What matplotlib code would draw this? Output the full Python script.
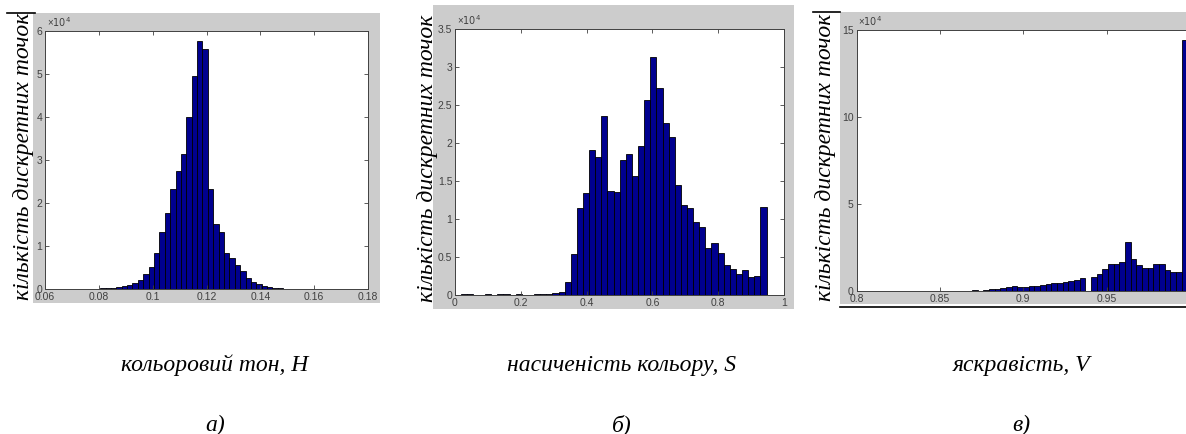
import numpy as np
import matplotlib.pyplot as plt
from matplotlib.patches import Rectangle
from matplotlib.lines import Line2D

plt.rcParams['mathtext.fontset'] = 'custom'
plt.rcParams['mathtext.rm'] = 'Liberation Sans'

W, H = 1186, 434

# histogram data, counts in units of 1e4
hue_start, hue_width = 0.0725, 0.002
hue_counts = [0.005, 0.008, 0.01, 0.01, 0.015, 0.02, 0.03, 0.045, 0.07, 0.10,
              0.15, 0.21, 0.35, 0.51, 0.83, 1.32, 1.76, 2.32, 2.75, 3.14,
              3.99, 4.95, 5.77, 5.58, 2.32, 1.51, 1.32, 0.83, 0.71, 0.56,
              0.41, 0.25, 0.16, 0.11, 0.08, 0.05, 0.025, 0.015, 0.01, 0.008,
              0.005, 0.004, 0.003, 0.003, 0.005, 0.008, 0.004]

sat_start, sat_width = 0.017, 0.0186
sat_counts = [0.01, 0.01, 0.005, 0.0, 0.01, 0.005, 0.01, 0.01, 0.005, 0.01,
              0.005, 0.0, 0.01, 0.01, 0.01, 0.02, 0.04, 0.17, 0.54, 1.14,
              1.34, 1.91, 1.82, 2.35, 1.37, 1.36, 1.77, 1.86, 1.56, 1.96,
              2.56, 3.13, 2.73, 2.26, 2.08, 1.45, 1.18, 1.15, 0.96, 0.89,
              0.62, 0.69, 0.55, 0.40, 0.34, 0.27, 0.33, 0.24, 0.25, 1.16]

val_start, val_width = 0.8182, 0.0034
val_counts = [0.01, 0.01, 0.01, 0.01, 0.01, 0.01, 0.01, 0.01, 0.01, 0.01,
              0.01, 0.01, 0.01, 0.01, 0.01, 0.06, 0.0, 0.06, 0.10, 0.13,
              0.17, 0.21, 0.27, 0.21, 0.23, 0.27, 0.31, 0.34, 0.40, 0.44,
              0.48, 0.52, 0.55, 0.65, 0.73, 0.0, 0.80, 0.95, 1.24, 1.53,
              1.58, 1.64, 2.79, 1.85, 1.47, 1.32, 1.34, 1.55, 1.53, 1.22,
              1.11, 1.11, 14.45]

hue_xticks = [0.06, 0.08, 0.1, 0.12, 0.14, 0.16, 0.18]
hue_yticks = [0, 1, 2, 3, 4, 5, 6]
sat_xticks = [0, 0.2, 0.4, 0.6, 0.8, 1]
sat_yticks = [0, 0.5, 1, 1.5, 2, 2.5, 3, 3.5]
val_xticks = [0.8, 0.85, 0.9, 0.95]   # the 1.0 tick falls past the cropped edge
val_yticks = [0, 5, 10, 15]

ylabel = 'кількість дискретних точок'
captions = ['кольоровий тон, H', 'насиченість кольору, S', 'яскравість, V']
letters = ['а)', 'б)', 'в)']


def box(l, t, r, b):
    return [l / W, 1 - b / H, (r - l) / W, (b - t) / H]


def fx(x):
    return x / W


def fy(y):
    return 1 - y / H


fig = plt.figure(figsize=(W / 100, H / 100), dpi=100)
fig.patch.set_facecolor('white')

panels = [
    dict(frame=(33, 13, 380, 303), axes=(45, 31, 368, 289), lab=(24, 156),
         start=hue_start, width=hue_width, counts=hue_counts,
         xlim=(0.06, 0.18), ylim=(0, 6), xt=hue_xticks, yt=hue_yticks),
    dict(frame=(433, 5, 794, 309), axes=(455, 29, 784, 295), lab=(427, 158),
         start=sat_start, width=sat_width, counts=sat_counts,
         xlim=(0, 1), ylim=(0, 3.5), xt=sat_xticks, yt=sat_yticks),
    dict(frame=(840, 12, 1200, 304), axes=(856.5, 30, 1190, 291), lab=(826, 157),
         start=val_start, width=val_width, counts=val_counts,
         xlim=(0.8, 1.0), ylim=(0, 15), xt=val_xticks, yt=val_yticks),
]

for i, p in enumerate(panels):
    l, t, r, b = p['frame']
    fig.add_artist(Rectangle((fx(l), fy(b)), (r - l) / W, (b - t) / H,
                             transform=fig.transFigure, facecolor='#cccccc',
                             edgecolor='none', zorder=0))
    ax = fig.add_axes(box(*p['axes']))
    ax.set_facecolor('white')
    counts = np.array(p['counts'])
    lefts = p['start'] + p['width'] * np.arange(len(counts))
    ax.bar(lefts, counts, width=p['width'], align='edge', color='#00008f',
           edgecolor='black', linewidth=0.6)
    ax.set_xlim(*p['xlim'])
    ax.set_ylim(*p['ylim'])
    ax.set_xticks(p['xt'])
    ax.set_yticks(p['yt'])
    ax.set_xticklabels([f'{v:g}' for v in p['xt']])
    ax.set_yticklabels([f'{v:g}' for v in p['yt']])
    ax.tick_params(direction='in', length=3, width=0.6, top=True, right=True,
                   labelsize=7.5, labelcolor='#404040', color='#404040', pad=2)
    for lbl in ax.get_xticklabels() + ax.get_yticklabels():
        lbl.set_family('Liberation Sans')
    for s in ax.spines.values():
        s.set_color('#404040')
        s.set_linewidth(0.7)
    ax.text(0.005, 1.008, r'$\times\mathregular{10^4}$', transform=ax.transAxes,
            fontsize=7, color='#404040', ha='left', va='bottom')

    lx, ly = p['lab']
    fig.text(fx(lx), fy(ly), ylabel, rotation=90, ha='center', va='center',
             family='Liberation Serif', style='italic', fontsize=17)

    cx = [215, 622, 1021][i]
    fig.text(fx(cx), fy(365), captions[i], ha='center', va='center',
             family='Liberation Serif', style='italic', fontsize=17)
    fig.text(fx(cx), fy(425), letters[i], ha='center', va='center',
             family='Liberation Serif', style='italic', fontsize=17)

# black rule fragments from the source document
for x0, x1, y in [(7, 35, 13), (813, 840, 12), (840, 1186, 306.5)]:
    fig.add_artist(Line2D([fx(x0), fx(x1)], [fy(y), fy(y)], color='black',
                          linewidth=1.2, transform=fig.transFigure))

fig.savefig('out.png', dpi=100)
